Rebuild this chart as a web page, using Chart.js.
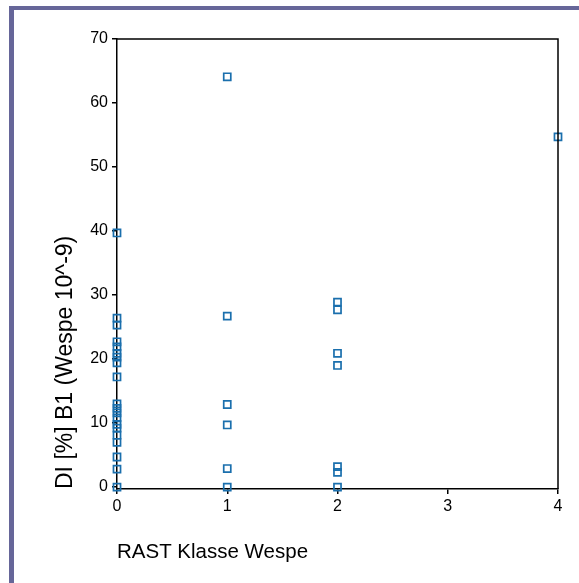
<!DOCTYPE html>
<html lang="de">
<head>
    <meta charset="UTF-8">
    <title>DI B1 vs RAST Klasse Wespe</title>
    <script src="https://cdn.jsdelivr.net/npm/chart.js"></script>
    <style>
        body { margin: 0; background: #fff; }
        .frame {
            position: absolute; left: 9px; top: 6px; right: 0; bottom: 0;
            border-left: 5px solid #666699; border-top: 4px solid #666699;
        }
        #wrap { position: absolute; left: 0; top: 0; width: 579px; height: 583px; }
    </style>
</head>
<body>
    <div class="frame"></div>
    <div id="wrap"><canvas id="scatter"></canvas></div>

    <script>
        // RAST class per patient and DI [%] B1 (wasp 10^-9)
        const rastKlasse = [
            0, 0, 0, 0, 0, 0, 0, 0, 0, 0, 0, 0, 0, 0, 0, 0, 0, 0, 0, 0,
            1, 1, 1, 1, 1, 1,
            2, 2, 2, 2, 2, 2, 2,
            4
        ];
        const diB1 = [
            39.7, 26.4, 25.3, 22.7, 21.9, 20.9, 20.3, 19.4, 17.2, 13.0, 12.3, 11.6, 10.8, 9.8, 9.2, 8.1, 7.0, 4.7, 2.8, 0,
            64.1, 26.7, 12.9, 9.7, 2.9, 0,
            28.9, 27.7, 20.9, 19.0, 3.2, 2.3, 0,
            54.7
        ];
        const yTicks = [0, 10, 20, 30, 40, 50, 60, 70];
        const xTicks = [0, 1, 2, 3, 4];

        const points = rastKlasse.map((x, i) => ({ x: x, y: diB1[i] }));

        // top and right edges of the plot box
        const boxLines = {
            id: 'boxLines',
            afterDraw(chart) {
                const { ctx, chartArea: a } = chart;
                ctx.save();
                ctx.strokeStyle = '#000';
                ctx.lineWidth = 1.5;
                ctx.beginPath();
                ctx.moveTo(a.left, a.top);
                ctx.lineTo(a.right, a.top);
                ctx.lineTo(a.right, a.bottom);
                ctx.stroke();
                ctx.restore();
            }
        };

        Chart.defaults.font.family = '"Liberation Sans", Arial, sans-serif';
        Chart.defaults.color = '#000';

        new Chart(document.getElementById('scatter'), {
            type: 'scatter',
            data: {
                datasets: [{
                    data: points,
                    clip: false,
                    pointStyle: 'rect',
                    pointRadius: 5,
                    pointBorderWidth: 1.7,
                    pointBorderColor: '#1a6fad',
                    pointBackgroundColor: 'rgba(0,0,0,0)'
                }]
            },
            options: {
                responsive: true,
                maintainAspectRatio: false,
                animation: false,
                layout: { padding: { left: 0, right: 21, top: 39, bottom: 0 } },
                plugins: { legend: { display: false }, tooltip: { enabled: false } },
                scales: {
                    x: {
                        type: 'linear',
                        min: 0,
                        max: 4,
                        afterBuildTicks: s => { s.ticks = xTicks.map(v => ({ value: v })); },
                        afterFit: s => { s.height = 94; },
                        grid: { drawOnChartArea: false, tickLength: 5, color: '#000', lineWidth: 1.5 },
                        border: { color: '#000', width: 1.5 },
                        ticks: { font: { size: 16 }, padding: 3, maxRotation: 0 },
                        title: {
                            display: true,
                            text: 'RAST Klasse Wespe',
                            align: 'start',
                            font: { size: 20.5 },
                            padding: { top: 0, bottom: 18 }
                        }
                    },
                    y: {
                        type: 'linear',
                        min: -0.3,
                        max: 70,
                        afterBuildTicks: s => { s.ticks = yTicks.map(v => ({ value: v })); },
                        afterFit: s => { s.width = 117; },
                        grid: { drawOnChartArea: false, tickLength: 5, color: '#000', lineWidth: 1.5 },
                        border: { color: '#000', width: 1.5 },
                        ticks: { font: { size: 16 }, padding: 4 },
                        title: {
                            display: true,
                            text: 'DI [%] B1 (Wespe 10^-9)',
                            align: 'start',
                            font: { size: 23 },
                            padding: { top: 52, bottom: 0 }
                        }
                    }
                }
            },
            plugins: [boxLines]
        });
    </script>
</body>
</html>
